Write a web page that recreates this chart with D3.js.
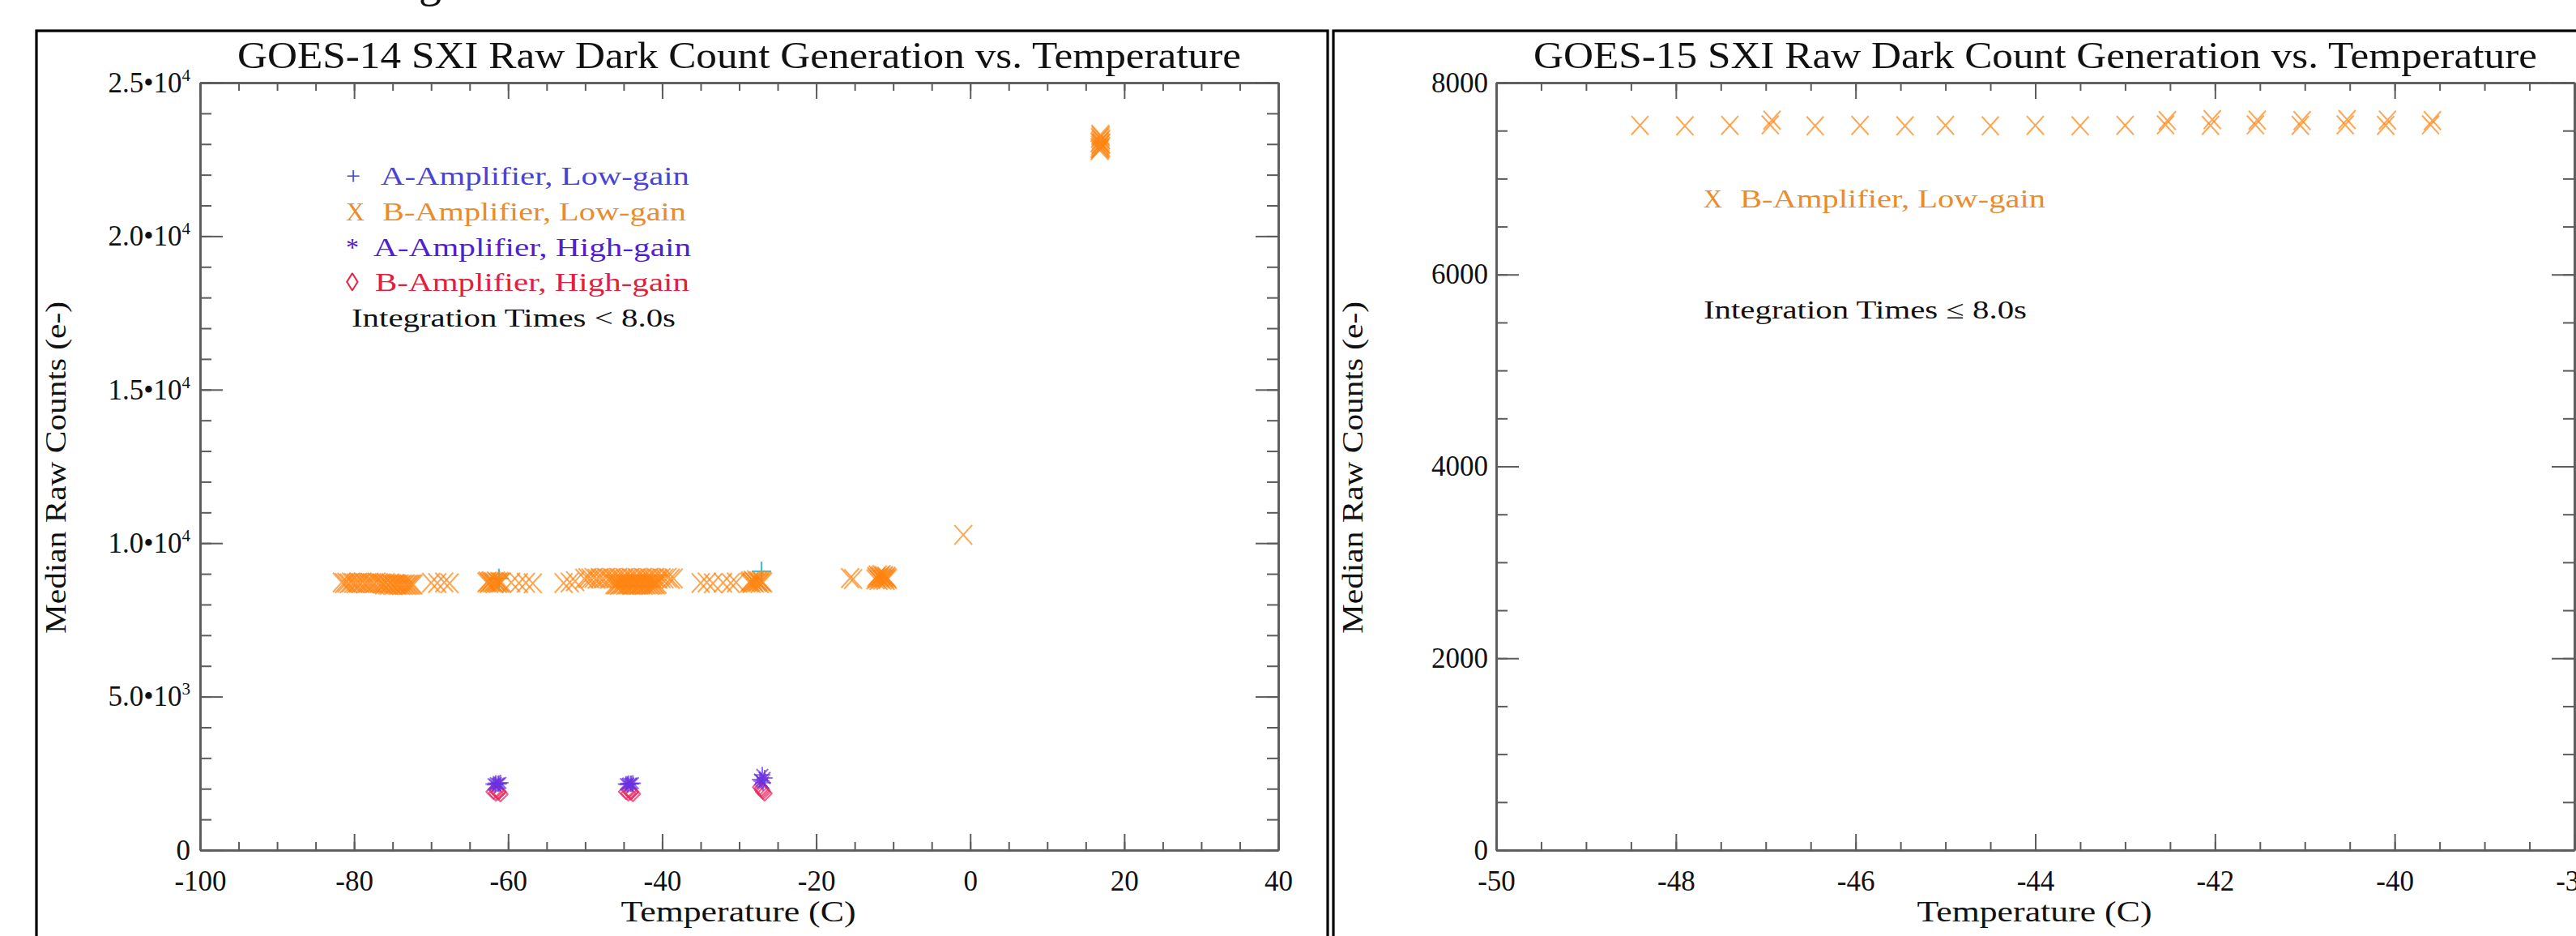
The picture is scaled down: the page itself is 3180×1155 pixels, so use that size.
<!DOCTYPE html>
<html><head><meta charset="utf-8">
<script src="https://cdn.jsdelivr.net/npm/d3@7"></script>
<style>html,body{margin:0;padding:0;background:#fff;} svg{display:block;}</style>
</head><body>
<svg id="chart" width="3180" height="1155"></svg>
<script>
// ---------------- DATA ----------------
// GOES-14 panel
const g14XTicks = [-100, -80, -60, -40, -20, 0, 20, 40];
const g14XTickLabels = ["-100", "-80", "-60", "-40", "-20", "0", "20", "40"];
const g14YTicks = [0, 5000, 10000, 15000, 20000, 25000];
const g14YTickMantissa = ["0", "5.0•10", "1.0•10", "1.5•10", "2.0•10", "2.5•10"];
const g14YTickExponent = ["", "3", "4", "4", "4", "4"];

const g14ALowTemp = [-61.2, -27.1];
const g14ALowCounts = [8850, 9080];

const g14BLowTemp = [
  -81.6,-81.3,-81.0,-80.7,-80.4,-80.1,-79.8,-79.5,-79.2,-78.9,-78.6,-78.3,-78.0,-77.7,-77.4,-77.1,-76.8,
  -76.5,-76.3,-76.1,-75.9,-75.7,-75.5,-75.3,-75.1,-74.9,-74.7,-74.5,-74.3,-74.1,-73.9,-73.7,-73.5,-73.3,-73.1,-72.9,-72.7,-72.5,-72.3,
  -70.0,-69.2,-68.3,-67.6,
  -62.8,-62.65,-62.5,-62.35,-62.2,-62.05,-61.9,-61.75,-61.6,-61.45,-61.3,-61.15,-61.0,-60.85,
  -59.6,-58.6,-57.7,-56.8,
  -52.8,-52.0,-51.3,
  -50.1,-49.7,-49.3,-48.9,-48.5,-48.1,-47.7,-47.3,-46.9,-46.5,-46.1,-45.7,-45.3,-44.9,-44.5,-44.1,-43.7,-43.3,-42.9,-42.5,-42.1,-41.7,-41.3,-40.9,-40.5,-40.1,-39.7,-39.3,-38.9,-38.5,
  -46.2,-46.0,-45.8,-45.6,-45.4,-45.2,-45.0,-44.8,-44.6,-44.4,-44.2,-44.0,-43.8,-43.6,-43.4,-43.2,-43.0,-42.8,-42.6,-42.4,-42.2,-42.0,-41.8,-41.6,-41.4,-41.2,-41.0,-40.8,-40.6,
  -35.0,-34.2,-33.4,-32.1,-31.1,-30.4,
  -28.7,-28.55,-28.4,-28.25,-28.1,-27.95,-27.8,-27.65,-27.5,-27.35,-27.2,-27.05,-26.9,
  -15.6,-15.2,
  -12.3,-12.2,-12.1,-12.0,-11.9,-11.8,-11.7,-11.6,-11.5,-11.4,-11.3,-11.2,-11.1,-11.0,-10.9,-10.8,-10.7,
  -0.9,
  16.8,16.9,17.0,16.85,16.95,16.8,16.9,17.0,16.85,16.95,16.9,16.8,17.0
];
const g14BLowCounts = [
  8720,8700,8710,8690,8720,8700,8690,8710,8700,8720,8690,8700,8710,8700,8690,8720,8700,
  8690,8680,8650,8700,8660,8640,8690,8650,8630,8670,8650,8640,8660,8630,8650,8640,8660,8630,8650,8640,8660,8650,
  8710,8700,8720,8690,
  8720,8750,8700,8740,8760,8710,8730,8690,8750,8720,8700,8740,8710,8730,
  8720,8700,8710,8690,
  8700,8720,8760,
  8840,8860,8850,8870,8840,8860,8850,8870,8840,8860,8850,8870,8840,8860,8850,8870,8840,8860,8850,8870,8840,8860,8850,8870,8840,8860,8850,8870,8840,8850,
  8660,8650,8670,8640,8660,8650,8680,8640,8660,8650,8670,8640,8660,8650,8680,8640,8660,8650,8670,8640,8660,8650,8680,8640,8660,8650,8670,8660,8680,
  8700,8720,8690,8710,8700,8720,
  8720,8760,8700,8780,8740,8710,8790,8730,8760,8700,8770,8740,8720,
  8860,8830,
  8820,8900,8850,8950,8800,8880,8920,8840,8960,8810,8890,8930,8850,8800,8910,8870,8830,
  10270,
  22800,22850,22900,22950,23000,23050,23100,23150,23200,23250,23300,22870,23020
];

const g14AHighTemp = [-61.9,-61.6,-61.3,-61.0,-61.7,-61.2,-44.7,-44.4,-44.1,-43.8,-44.5,-44.0,-27.3,-27.0,-26.7,-27.1,-26.9];
const g14AHighCounts = [2150,2180,2160,2190,2130,2170,2150,2170,2160,2180,2140,2165,2300,2450,2350,2250,2200];

const g14BHighTemp = [-61.9,-61.6,-61.3,-61.0,-61.5,-61.2,-44.7,-44.4,-44.1,-43.8,-44.3,-44.0,-27.3,-27.0,-26.7,-27.1,-26.9];
const g14BHighCounts = [1900,1850,1880,1820,1950,1900,1900,1850,1880,1830,1950,1900,2050,1950,1850,2000,1900];

// GOES-15 panel
const g15XTicks = [-50, -48, -46, -44, -42, -40, -38];
const g15XTickLabels = ["-50", "-48", "-46", "-44", "-42", "-40", "-38"];
const g15YTicks = [0, 2000, 4000, 6000, 8000];
const g15YTickLabels = ["0", "2000", "4000", "6000", "8000"];

const g15BLowTemp = [-48.4,-47.9,-47.4,-46.95,-46.45,-45.95,-45.45,-45.0,-44.5,-44.0,-43.5,-43.0,-42.55,-42.05,-41.55,-41.05,-40.55,-40.1,-39.6,
  -46.93,-42.53,-42.03,-41.53,-41.03,-40.53,-40.08,-39.58];
const g15BLowCounts = [7555,7550,7555,7560,7550,7555,7550,7555,7550,7555,7550,7555,7560,7555,7560,7555,7560,7555,7560,
  7610,7605,7615,7610,7605,7615,7610,7605];

const legend14 = [
  {sym: "+", label: "A-Amplifier, Low-gain", color: "#4a42d6"},
  {sym: "X", label: "B-Amplifier, Low-gain", color: "#ea8c2c"},
  {sym: "*", label: "A-Amplifier, High-gain", color: "#4f20d2"},
  {sym: "◊", label: "B-Amplifier, High-gain", color: "#e0203e"}
];

// ---------------- DRAWING ----------------
const FONT = "'Liberation Serif','Times New Roman',serif";
const svg = d3.select("#chart");
const AXIS_COL = "#5c5c5c";
const ORANGE = "#ff8410";

// a fragment of caption text cut at the top of the picture
svg.append("text").attr("x", 531).attr("y", -4).attr("text-anchor", "middle")
  .attr("font-family", FONT).attr("font-size", 56).attr("fill", "#111").text("g");

function markerPath(type, s) {
  if (type === "x") return `M${-s},${-s*1.1}L${s},${s*1.1}M${-s},${s*1.1}L${s},${-s*1.1}`;
  if (type === "plus") return `M0,${-s}V${s}M${-s},0H${s}`;
  if (type === "star") { const d = s*0.72; return `M0,${-s}V${s}M${-s},0H${s}M${-d},${-d}L${d},${d}M${-d},${d}L${d},${-d}`; }
  if (type === "diamond") return `M0,${-s}L${s},0L0,${s}L${-s},0Z`;
}

function panel(opt) {
  const g = svg.append("g");
  const x = d3.scaleLinear().domain(opt.xDomain).range([opt.left, opt.right]);
  const y = d3.scaleLinear().domain(opt.yDomain).range([1049, 102]);
  const top = 102, bottom = 1049;

  // frame
  g.append("rect").attr("x", opt.frameLeft).attr("y", 38).attr("width", opt.frameWidth).attr("height", 1200)
    .attr("fill", "none").attr("stroke", "#000").attr("stroke-width", 3.2);

  // title
  g.append("text").attr("x", (opt.left + opt.right) / 2).attr("y", 84).attr("text-anchor", "middle")
    .attr("font-family", FONT).attr("font-size", 47).attr("fill", "#111")
    .attr("textLength", 1239).attr("lengthAdjust", "spacingAndGlyphs").text(opt.title);

  // axes
  const mk = (axis, tr) => g.append("g").attr("transform", tr).call(axis);
  mk(d3.axisBottom(x).tickValues(opt.xMinor).tickSize(-10).tickSizeOuter(0).tickFormat(""), `translate(0,${bottom})`);
  mk(d3.axisTop(x).tickValues(opt.xMinor).tickSize(-10).tickSizeOuter(0).tickFormat(""), `translate(0,${top})`);
  mk(d3.axisTop(x).tickValues(opt.xTicks).tickSize(-20).tickSizeOuter(0).tickFormat(""), `translate(0,${top})`);
  const xb = mk(d3.axisBottom(x).tickValues(opt.xTicks).tickSize(-20).tickSizeOuter(0).tickPadding(25)
    .tickFormat((d, i) => opt.xLabels[i]), `translate(0,${bottom})`);
  mk(d3.axisLeft(y).tickValues(opt.yMinor).tickSize(-14).tickSizeOuter(0).tickFormat(""), `translate(${opt.left},0)`);
  mk(d3.axisRight(y).tickValues(opt.yMinor).tickSize(-14).tickSizeOuter(0).tickFormat(""), `translate(${opt.right},0)`);
  mk(d3.axisRight(y).tickValues(opt.yTicks).tickSize(-28).tickSizeOuter(0).tickFormat(""), `translate(${opt.right},0)`);
  const yl = mk(d3.axisLeft(y).tickValues(opt.yTicks).tickSize(-28).tickSizeOuter(0).tickPadding(opt.yPad)
    .tickFormat((d, i) => opt.yMant[i]), `translate(${opt.left},0)`);

  g.selectAll(".domain").attr("stroke", AXIS_COL).attr("stroke-width", 2.6);
  g.selectAll(".tick line").attr("stroke", AXIS_COL).attr("stroke-width", 2);
  g.selectAll(".tick text").attr("font-family", FONT).attr("font-size", 35).attr("fill", "#111");

  if (opt.yExp) {
    yl.selectAll(".tick text").each(function(d, i) {
      const t = d3.select(this);
      if (!opt.yExp[i]) return;
      t.text(null);
      t.append("tspan").text(opt.yMant[i]);
      t.append("tspan").attr("dy", -14).attr("font-size", 21).text(opt.yExp[i]);
    });
  }

  // axis titles
  g.append("text").attr("x", (opt.left + opt.right) / 2 - 1).attr("y", 1137).attr("text-anchor", "middle")
    .attr("font-family", FONT).attr("font-size", 36).attr("fill", "#111")
    .attr("textLength", 290).attr("lengthAdjust", "spacingAndGlyphs").text("Temperature (C)");
  g.append("text").attr("transform", `translate(${opt.frameLeft + 36},577) rotate(-90)`).attr("text-anchor", "middle")
    .attr("font-family", FONT).attr("font-size", 36).attr("fill", "#111")
    .attr("textLength", 410).attr("lengthAdjust", "spacingAndGlyphs").text("Median Raw Counts (e-)");

  // series
  const plot = g.append("g");
  opt.series.forEach(s => {
    const pts = s.t.map((t, i) => ({t, c: s.c[i]}));
    plot.append("g").selectAll("path").data(pts).join("path")
      .attr("transform", d => `translate(${x(d.t)},${y(d.c)})`)
      .attr("d", markerPath(s.type, s.size))
      .attr("fill", "none").attr("stroke", s.color).attr("stroke-width", s.width)
      .attr("stroke-opacity", s.opacity).attr("stroke-linejoin", "round");
  });
  return {g, x, y};
}

const p14 = panel({
  frameLeft: 45, frameWidth: 1594, left: 247, right: 1578,
  xDomain: [-100, 40], yDomain: [0, 25000],
  xTicks: g14XTicks, xLabels: g14XTickLabels, xMinor: d3.range(-100, 41, 5),
  yTicks: g14YTicks, yMant: g14YTickMantissa, yExp: g14YTickExponent, yMinor: d3.range(0, 25001, 1000),
  yPad: 12,
  title: "GOES-14 SXI Raw Dark Count Generation vs. Temperature",
  series: [
    {t: g14ALowTemp, c: g14ALowCounts, type: "plus", size: 12, color: "#2fb8d2", width: 2.2, opacity: 0.9},
    {t: g14BLowTemp, c: g14BLowCounts, type: "x", size: 11, color: ORANGE, width: 2, opacity: 0.72},
    {t: g14BHighTemp, c: g14BHighCounts, type: "diamond", size: 9, color: "#ea2a60", width: 2, opacity: 0.75},
    {t: g14AHighTemp, c: g14AHighCounts, type: "star", size: 10, color: "#6a30e0", width: 2, opacity: 0.7}
  ]
});

const p15 = panel({
  frameLeft: 1646, frameWidth: 1600, left: 1847, right: 3178,
  xDomain: [-50, -38], yDomain: [0, 8000],
  xTicks: g15XTicks, xLabels: g15XTickLabels, xMinor: d3.range(-50, -37.9, 0.5),
  yTicks: g15YTicks, yMant: g15YTickLabels, yExp: null, yMinor: d3.range(0, 8001, 500),
  yPad: 10,
  title: "GOES-15 SXI Raw Dark Count Generation vs. Temperature",
  series: [
    {t: g15BLowTemp, c: g15BLowCounts, type: "x", size: 10.5, color: ORANGE, width: 2, opacity: 0.72}
  ]
});

// legends
const leg = svg.append("g").attr("font-family", FONT).attr("font-size", 32);
const legW = [381, 375, 392, 388];
const legTX = [470, 472, 461, 463];
legend14.forEach((d, i) => {
  const yb = 228 + i * 43.8;
  leg.append("text").attr("x", 427).attr("y", yb).attr("fill", d.color).text(d.sym);
  leg.append("text").attr("x", legTX[i]).attr("y", yb).attr("fill", d.color)
    .attr("textLength", legW[i]).attr("lengthAdjust", "spacingAndGlyphs").text(d.label);
});
leg.append("text").attr("x", 434).attr("y", 403).attr("fill", "#111")
  .attr("textLength", 400).attr("lengthAdjust", "spacingAndGlyphs").text("Integration Times < 8.0s");

leg.append("text").attr("x", 2103).attr("y", 256).attr("fill", legend14[1].color).text("X");
leg.append("text").attr("x", 2148).attr("y", 256).attr("fill", legend14[1].color)
  .attr("textLength", 377).attr("lengthAdjust", "spacingAndGlyphs").text(legend14[1].label);
leg.append("text").attr("x", 2103).attr("y", 393).attr("fill", "#111")
  .attr("textLength", 399).attr("lengthAdjust", "spacingAndGlyphs").text("Integration Times ≤ 8.0s");
</script>
</body></html>
